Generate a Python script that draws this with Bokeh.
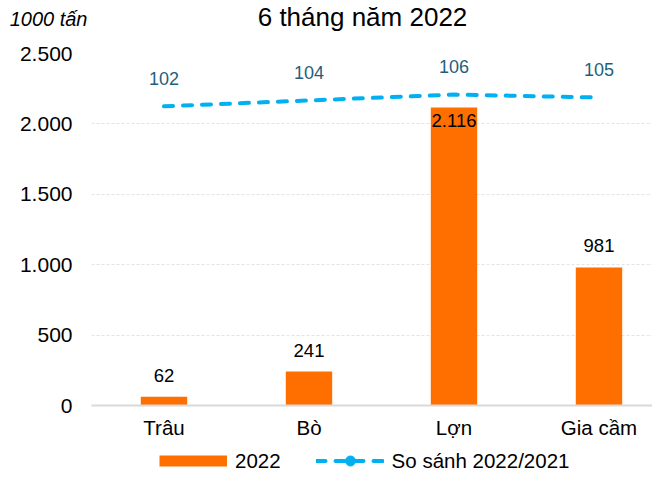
from bokeh.plotting import figure
from bokeh.models import (Range1d, FixedTicker, Legend, LegendItem, Label,
                          ColumnDataSource)
from bokeh.layouts import column
from bokeh.core.properties import value
from bokeh.embed import file_html
from bokeh.resources import INLINE

# ---------------- data ----------------
categories = ["Trâu", "Bò", "Lợn", "Gia cầm"]
output_2022 = [62, 241, 2116, 981]
bar_labels = ["62", "241", "2.116", "981"]
ratio = [102, 104, 106, 105]
ratio_labels = ["102", "104", "106", "105"]
y_ticks = [0, 500, 1000, 1500, 2000, 2500]
y_tick_labels = ["0", "500", "1.000", "1.500", "2.000", "2.500"]
title_text = "6 tháng năm 2022"
unit_text = "1000 tấn"
series_names = ["2022", "So sánh 2022/2021"]

FONT = "Liberation Sans"
BAR_COLOR = "#FF6F00"
LINE_COLOR = "#00B0F0"
RATIO_TEXT = "#1F5F7B"
W = 652
LEFT = 91          # left border of every stacked figure (frames are aligned)
HEAD_H = 35

xs = [i + 0.5 for i in range(len(categories))]


def strip(h, y_axis=False):
    f = figure(width=W, height=h, output_backend="svg", toolbar_location=None,
               x_range=Range1d(0, 1), y_range=Range1d(0, 1),
               x_axis_type=None, y_axis_type="linear" if y_axis else None,
               min_border_left=0, min_border_right=0,
               min_border_top=0, min_border_bottom=0)
    f.outline_line_color = None
    f.background_fill_color = "white"
    f.border_fill_color = "white"
    return f


# ---------------- header: title + unit ----------------
head = strip(HEAD_H, y_axis=True)
head.grid.visible = False
unit_pos = 1 - 18.4 / HEAD_H       # unit text centre 18px below the top
head.yaxis.ticker = FixedTicker(ticks=[unit_pos])
head.yaxis.major_label_overrides = {unit_pos: unit_text}
head.yaxis.axis_line_color = None
head.yaxis.major_tick_line_color = None
head.yaxis.minor_tick_line_color = None
head.yaxis.major_tick_out = 0
head.yaxis.major_tick_in = 0
head.yaxis.major_label_standoff = 4
head.yaxis.major_label_text_font = FONT
head.yaxis.major_label_text_font_size = "20px"
head.yaxis.major_label_text_font_style = "italic"
head.yaxis.major_label_text_color = "#000000"
head.add_layout(Label(x=362 - LEFT, y=19, x_units="screen", y_units="screen",
                      text=title_text, text_align="center", text_baseline="middle",
                      text_font=FONT, text_font_size="26px", text_color="#000000"))

# ---------------- main chart ----------------
p = figure(width=W, height=412, output_backend="svg", toolbar_location=None,
           x_range=Range1d(0, 3.869), y_range=Range1d(0, 2500),
           min_border_left=LEFT, min_border_right=0, min_border_top=18,
           min_border_bottom=42)
p.extra_y_ranges = {"pct": Range1d(0, 120)}
p.outline_line_color = None
p.background_fill_color = "white"
p.border_fill_color = "white"

p.yaxis.ticker = FixedTicker(ticks=y_ticks)
p.yaxis.major_label_overrides = {t: l for t, l in zip(y_ticks, y_tick_labels)}
p.yaxis.axis_line_color = None
p.yaxis.major_tick_line_color = None
p.yaxis.major_tick_out = 0
p.yaxis.major_tick_in = 0
p.yaxis.minor_tick_line_color = None
p.yaxis.major_label_standoff = 19
p.yaxis.major_label_text_font = FONT
p.yaxis.major_label_text_font_size = "21px"
p.yaxis.major_label_text_color = "#000000"

p.xaxis.ticker = FixedTicker(ticks=xs)
p.xaxis.major_label_overrides = {x: c for x, c in zip(xs, categories)}
p.xaxis.axis_line_color = "#D9D9D9"
p.xaxis.axis_line_width = 2
p.xaxis.major_tick_line_color = None
p.xaxis.major_tick_out = 0
p.xaxis.major_tick_in = 0
p.xaxis.minor_tick_line_color = None
p.xaxis.major_label_standoff = 10
p.xaxis.major_label_text_font = FONT
p.xaxis.major_label_text_font_size = "20.5px"
p.xaxis.major_label_text_color = "#000000"

p.xgrid.grid_line_color = None
p.ygrid.ticker = FixedTicker(ticks=y_ticks)
p.ygrid.grid_line_color = "#E3E3E3"
p.ygrid.grid_line_dash = "3 2"
p.ygrid.grid_line_width = 1

src = ColumnDataSource(dict(x=xs, y=output_2022, lab=bar_labels))
p.vbar(x="x", top="y", width=0.32, source=src, fill_color=BAR_COLOR,
       line_color=None)

# value labels: above the bar, or inside the tallest bar (it meets the line zone)
top_max = max(output_2022)
src.data["off"] = [12.5 if v == top_max else -21.5 for v in output_2022]
p.text(x="x", y="y", text="lab", source=src, y_offset="off",
       text_align="center", text_baseline="middle",
       text_font=value(FONT), text_font_size="18.5px", text_color="#000000")

lsrc = ColumnDataSource(dict(x=xs, y=ratio, lab=ratio_labels))
p.line(x="x", y="y", source=lsrc, y_range_name="pct",
       line_color=LINE_COLOR, line_width=4, line_dash="9 10", line_cap="round")
p.text(x="x", y="y", text="lab", source=lsrc, y_range_name="pct",
       y_offset=-28, text_align="center", text_baseline="middle",
       text_font=value(FONT), text_font_size="18px", text_color=RATIO_TEXT)

# ---------------- legend strip ----------------
leg = strip(26)
nan = float("nan")
sw_bar = leg.line(x=[0], y=[nan], line_color=BAR_COLOR, line_width=11)
sw_line = leg.line(x=[0], y=[nan], line_color=LINE_COLOR, line_width=4,
                   line_dash="9 10", line_cap="round")
sw_dot = leg.scatter(x=[0], y=[nan], marker="circle", fill_color=LINE_COLOR,
                     line_color=LINE_COLOR)
legend = Legend(items=[LegendItem(label=series_names[0], renderers=[sw_bar]),
                       LegendItem(label=series_names[1], renderers=[sw_line, sw_dot])],
                location=(159 - LEFT, 0), orientation="horizontal",
                glyph_width=68, glyph_height=25, label_height=22,
                label_standoff=8, padding=0, margin=0, spacing=35,
                border_line_color=None, background_fill_alpha=0,
                label_text_font=FONT, label_text_font_size="20.5px",
                label_text_color="#000000")
leg.add_layout(legend)

page = column(head, p, leg, spacing=0)
open("out.html", "w").write(file_html(page, INLINE))
